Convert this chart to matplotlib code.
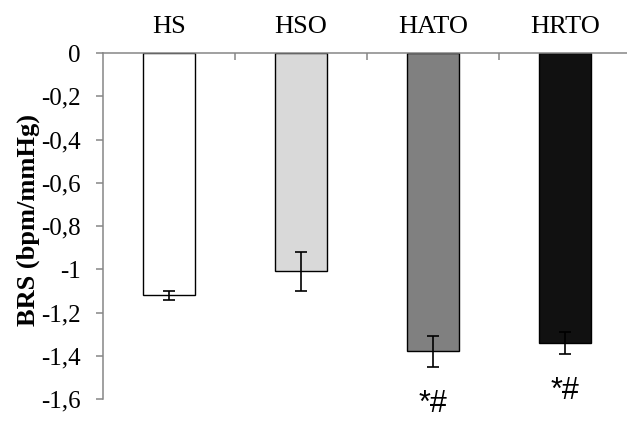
import numpy as np
import matplotlib
matplotlib.use("Agg")
import matplotlib.pyplot as plt
from matplotlib.ticker import FuncFormatter

# Data
groups = ["HS", "HSO", "HATO", "HRTO"]
brs = [-1.12, -1.01, -1.38, -1.34]
brs_err = [0.02, 0.09, 0.07, 0.05]
marks = ["", "", "*#", "*#"]
y_ticks = [0, -0.2, -0.4, -0.6, -0.8, -1.0, -1.2, -1.4, -1.6]

fills = ["#ffffff", "#d9d9d9", "#808080", "#111111"]
axis_gray = "#868686"

plt.rcParams['font.family'] = ['Liberation Serif', 'DejaVu Serif']

fig = plt.figure(figsize=(6.27, 4.21), dpi=100)
ax = fig.add_axes([103 / 627, 1 - 399 / 421, 528 / 627, 346 / 421])

x = np.arange(len(groups))
ax.bar(x, brs, width=0.4, color=fills, edgecolor="black", linewidth=1.0, zorder=2)
ax.errorbar(x, brs, yerr=brs_err, fmt="none", ecolor="black",
            elinewidth=1.2, capsize=4, capthick=1.2, zorder=3)

# significance marks under the bars
for xi, v, e, m in zip(x, brs, brs_err, marks):
    if m:
        ax.text(xi, v - e - 0.175, m, ha="center", va="center",
                fontsize=22, family=["Liberation Sans", "DejaVu Sans"])

ax.set_xlim(-0.5, len(groups) - 0.5)
ax.set_ylim(-1.6, 0)

# category labels on top, boundary ticks pointing down
ax.xaxis.tick_top()
ax.set_xticks(x)
ax.set_xticklabels(groups, fontsize=19)
ax.tick_params(axis="x", which="major", length=0, pad=11)
ax.set_xticks(np.arange(0.5, len(groups) - 0.5), minor=True)
ax.tick_params(axis="x", which="minor", direction="in", length=5,
               width=1.1, color=axis_gray)

ax.set_yticks(y_ticks)
ax.yaxis.set_major_formatter(FuncFormatter(
    lambda v, p: ("%g" % round(v, 1)).replace(".", ",")))
ax.tick_params(axis="y", labelsize=18, length=5, width=1.1,
               color=axis_gray, pad=11)

for s in ["bottom", "right"]:
    ax.spines[s].set_visible(False)
for s in ["top", "left"]:
    ax.spines[s].set_color(axis_gray)
    ax.spines[s].set_linewidth(1.1)

fig.text(28 / 627, 1 - 220 / 421, "BRS (bpm/mmHg)", rotation=90,
         ha="center", va="center", fontsize=19, fontweight="bold")

fig.savefig("out.png", dpi=100)
